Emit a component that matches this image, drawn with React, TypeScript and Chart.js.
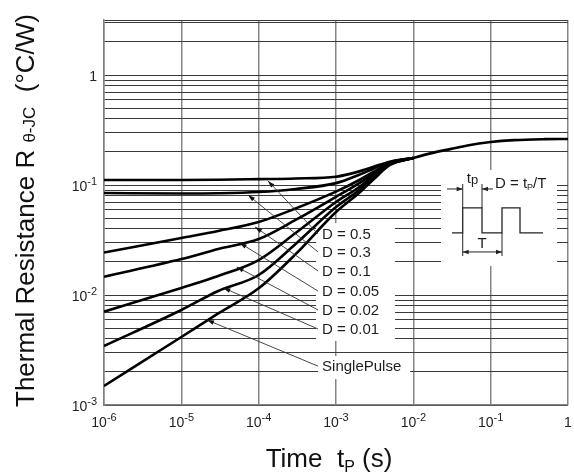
import { useEffect, useRef } from 'react';
import { Chart, registerables } from 'chart.js';

Chart.register(...registerables);

// ---------- data ----------
const T_DUTY = [1e-6, 1e-5, 3e-5, 1e-4, 3e-4, 1e-3, 2e-3, 3e-3, 5e-3, 1e-2];
const D_05 = [0.111, 0.111, 0.1115, 0.113, 0.1146, 0.119, 0.133, 0.146, 0.163, 0.176];
const D_03 = [0.0846, 0.0838, 0.0842, 0.0864, 0.092, 0.104, 0.124, 0.14, 0.162, 0.176];
const D_01 = [0.0243, 0.033, 0.0382, 0.0461, 0.0612, 0.087, 0.111, 0.131, 0.159, 0.176];
const D_005 = [0.01466, 0.0212, 0.0262, 0.0323, 0.0481, 0.078, 0.104, 0.126, 0.157, 0.176];
const D_002 = [0.00705, 0.0116, 0.0149, 0.0208, 0.0366, 0.07, 0.096, 0.121, 0.155, 0.176];
const D_001 = [0.00344, 0.00731, 0.01087, 0.0152, 0.0291, 0.063, 0.09, 0.116, 0.154, 0.176];

const T_SINGLE = [1e-6, 1e-5, 3e-5, 1e-4, 3e-4, 1e-3, 2e-3, 3e-3, 5e-3, 1e-2, 2e-2, 3e-2, 5e-2, 1e-1, 2e-1, 5e-1, 1];
const SINGLE = [0.00149, 0.00415, 0.0068, 0.0115, 0.0235, 0.0568, 0.085, 0.111, 0.152, 0.176, 0.2, 0.212, 0.229, 0.246, 0.256, 0.261, 0.262];

const X_TICKS = [1e-6, 1e-5, 1e-4, 1e-3, 1e-2, 1e-1, 1];
const Y_LABEL_TICKS = [1e-3, 1e-2, 1e-1, 1];
const Y_MIN = 1e-3;
const Y_MAX = Math.sqrt(10);
const Y_DECADES = [-3, -2, -1, 0];

// annotation labels (data coordinates)
const ANNOT_LABELS = ['D = 0.5', 'D = 0.3', 'D = 0.1', 'D = 0.05', 'D = 0.02', 'D = 0.01', 'SinglePulse'];
const ANNOT_LABEL_T = 6.6e-4;
const ANNOT_LABEL_V = [0.0351, 0.0241, 0.0162, 0.01064, 0.00716, 0.00481, 0.00221];
const ARROW_T = [1.32e-4, 7.3e-5, 9e-5, 5.7e-5, 5.2e-5, 3.5e-5, 2.15e-5];
const ARROW_V = [0.109, 0.081, 0.0415, 0.0297, 0.018, 0.0116, 0.00593];

// inset anchor (top-left of the pulse diagram, data coordinates)
const INSET_T = 0.0228;
const INSET_V = 0.137;

const FONT = '"Liberation Sans", Arial, Helvetica, sans-serif';

function isPow10(v: number) {
  const l = Math.log10(v);
  return Math.abs(l - Math.round(l)) < 1e-9;
}
function expOf(v: number) {
  return Math.round(Math.log10(v));
}

function buildYGrid() {
  const out: number[] = [];
  for (const e of Y_DECADES) {
    for (let m = 1; m <= 9; m++) {
      const v = m * Math.pow(10, e);
      if (v < Y_MAX) out.push(v);
    }
  }
  out.push(Y_MAX);
  return out;
}

type Piece = { t: string; size: number; dy: number };

function piecesWidth(ctx: CanvasRenderingContext2D, pieces: Piece[]) {
  let total = 0;
  for (const p of pieces) {
    ctx.font = `${p.size}px ${FONT}`;
    total += ctx.measureText(p.t).width;
  }
  return total;
}

function drawPieces(ctx: CanvasRenderingContext2D, pieces: Piece[], x: number, y: number, align: 'left' | 'center' | 'right') {
  const total = piecesWidth(ctx, pieces);
  let cx = align === 'center' ? x - total / 2 : align === 'right' ? x - total : x;
  ctx.textAlign = 'left';
  for (const p of pieces) {
    ctx.font = `${p.size}px ${FONT}`;
    ctx.fillText(p.t, cx, y + p.dy);
    cx += ctx.measureText(p.t).width;
  }
}

function powPieces(v: number): Piece[] {
  const e = expOf(v);
  if (e === 0) return [{ t: '1', size: 14, dy: 0 }];
  return [
    { t: '10', size: 14, dy: 0 },
    { t: String(e), size: 11, dy: -6 },
  ];
}

function arrowHead(ctx: CanvasRenderingContext2D, fx: number, fy: number, tx: number, ty: number, len: number, hw: number) {
  const a = Math.atan2(ty - fy, tx - fx);
  const bx = tx - len * Math.cos(a);
  const by = ty - len * Math.sin(a);
  ctx.beginPath();
  ctx.moveTo(tx, ty);
  ctx.lineTo(bx + hw * Math.sin(a), by - hw * Math.cos(a));
  ctx.lineTo(bx - hw * Math.sin(a), by + hw * Math.cos(a));
  ctx.closePath();
  ctx.fill();
}

const bgPlugin = {
  id: 'bg',
  beforeDraw(chart: any) {
    const { ctx, width, height } = chart;
    ctx.save();
    ctx.fillStyle = '#ffffff';
    ctx.fillRect(0, 0, width, height);
    ctx.restore();
  },
};

const annotPlugin = {
  id: 'annot',
  beforeDatasetsDraw(chart: any) {
    const { ctx } = chart;
    const x = chart.scales.x;
    const y = chart.scales.y;
    const lx = x.getPixelForValue(ANNOT_LABEL_T);
    const ly = ANNOT_LABEL_V.map((v) => y.getPixelForValue(v));
    ctx.save();
    ctx.fillStyle = '#ffffff';
    ctx.fillRect(lx - 6, ly[0] - 12, 79, ly[5] - ly[0] + 23);
    ctx.fillRect(lx - 4, ly[6] - 11, 92, 23);
    const ix = x.getPixelForValue(INSET_T);
    const iy = y.getPixelForValue(INSET_V);
    ctx.fillRect(ix, iy, 116, 96);
    ctx.restore();
  },
  afterDatasetsDraw(chart: any) {
    const { ctx, chartArea } = chart;
    const x = chart.scales.x;
    const y = chart.scales.y;
    const lx = x.getPixelForValue(ANNOT_LABEL_T);
    ctx.save();
    // leader lines with arrowheads
    ctx.strokeStyle = '#333';
    ctx.fillStyle = '#111';
    ctx.lineWidth = 0.9;
    ANNOT_LABEL_V.forEach((v, i) => {
      const sx = lx - 4;
      const sy = y.getPixelForValue(v) - 1;
      const tx = x.getPixelForValue(ARROW_T[i]);
      const ty = y.getPixelForValue(ARROW_V[i]);
      ctx.beginPath();
      ctx.moveTo(sx, sy);
      ctx.lineTo(tx, ty);
      ctx.stroke();
      arrowHead(ctx, sx, sy, tx, ty, 7, 2.3);
    });
    // labels
    ctx.fillStyle = '#1e1e1e';
    ctx.textBaseline = 'middle';
    ctx.textAlign = 'left';
    ctx.font = `15px ${FONT}`;
    ANNOT_LABELS.forEach((t, i) => {
      ctx.fillText(t, lx, y.getPixelForValue(ANNOT_LABEL_V[i]));
    });

    // inset pulse diagram
    const ix = x.getPixelForValue(INSET_T);
    const iy = y.getPixelForValue(INSET_V);
    const P = (dx: number, dy: number): [number, number] => [ix + dx, iy + dy];
    ctx.strokeStyle = '#222';
    ctx.fillStyle = '#222';
    ctx.lineWidth = 1.3;
    const wave: [number, number][] = [
      [11, 63], [21.7, 63], [21.7, 38], [41, 38], [41, 63], [61, 63], [61, 38], [79, 38], [79, 63], [102, 63],
    ];
    ctx.beginPath();
    wave.forEach(([dx, dy], i) => {
      const [px, py] = P(dx, dy);
      if (i === 0) ctx.moveTo(px, py); else ctx.lineTo(px, py);
    });
    ctx.stroke();
    ctx.lineWidth = 1;
    const seg = (a: [number, number], b: [number, number]) => {
      const [ax, ay] = P(a[0], a[1]);
      const [bx, by] = P(b[0], b[1]);
      ctx.beginPath();
      ctx.moveTo(ax, ay);
      ctx.lineTo(bx, by);
      ctx.stroke();
    };
    seg([21.7, 14], [21.7, 38]);
    seg([41, 14], [41, 38]);
    seg([6, 19], [21.7, 19]);
    seg([52, 19], [41, 19]);
    {
      const [a1, b1] = P(6, 19); const [a2, b2] = P(21.7, 19);
      arrowHead(ctx, a1, b1, a2, b2, 6, 2.2);
      const [c1, d1] = P(52, 19); const [c2, d2] = P(41, 19);
      arrowHead(ctx, c1, d1, c2, d2, 6, 2.2);
    }
    seg([21.7, 63], [21.7, 86]);
    seg([61, 63], [61, 86]);
    seg([21.7, 82], [61, 82]);
    {
      const [a1, b1] = P(40, 82); const [a2, b2] = P(21.7, 82);
      arrowHead(ctx, a1, b1, a2, b2, 6, 2.2);
      const [c2, d2] = P(61, 82);
      arrowHead(ctx, a1, b1, c2, d2, 6, 2.2);
    }
    ctx.textBaseline = 'alphabetic';
    ctx.fillStyle = '#1e1e1e';
    {
      const [tx, ty] = P(31.5, 13);
      drawPieces(ctx, [{ t: 't', size: 15, dy: 0 }, { t: 'p', size: 13, dy: 1 }], tx, ty, 'center');
      const [dx, dy] = P(54, 18);
      drawPieces(ctx, [{ t: 'D = t', size: 15, dy: 0 }, { t: 'P', size: 9, dy: 2 }, { t: '/T', size: 15, dy: 0 }], dx, dy, 'left');
      const [Tx, Ty] = P(41, 78);
      drawPieces(ctx, [{ t: 'T', size: 15, dy: 0 }], Tx, Ty, 'center');
    }

    // tick labels (10 with superscript exponent)
    ctx.fillStyle = '#222';
    X_TICKS.forEach((v) => {
      const px = x.getPixelForValue(v);
      drawPieces(ctx, powPieces(v), px, chartArea.bottom + 22, 'center');
    });
    Y_LABEL_TICKS.forEach((v) => {
      const py = y.getPixelForValue(v);
      drawPieces(ctx, powPieces(v), chartArea.left - 7, py + 6, 'right');
    });

    // axis titles
    ctx.fillStyle = '#111';
    const cx = (chartArea.left + chartArea.right) / 2 - 7;
    drawPieces(ctx, [
      { t: 'Time  t', size: 26, dy: 0 },
      { t: 'P', size: 16, dy: 5 },
      { t: ' (s)', size: 26, dy: 0 },
    ], cx, 467, 'center');

    ctx.save();
    ctx.translate(34, (chartArea.top + chartArea.bottom) / 2 - 2);
    ctx.rotate(-Math.PI / 2);
    drawPieces(ctx, [
      { t: 'Thermal Resistance R ', size: 26, dy: 0 },
      { t: '\u03B8-JC', size: 17, dy: 1 },
      { t: '  (\u00B0C/W)', size: 26, dy: 0 },
    ], 0, 0, 'center');
    ctx.restore();

    ctx.restore();
  },
};

export default function App() {
  const ref = useRef<HTMLCanvasElement | null>(null);

  useEffect(() => {
    document.body.style.margin = '0';
    const canvas = ref.current;
    if (!canvas) return;
    const mk = (label: string, ts: number[], vs: number[]) => ({
      label,
      data: ts.map((t, i) => ({ x: t, y: vs[i] })),
      borderColor: '#000000',
      backgroundColor: '#000000',
      borderWidth: 2.6,
      pointRadius: 0,
      fill: false,
      tension: 0.4,
      cubicInterpolationMode: 'monotone' as const,
    });
    const yGrid = buildYGrid();
    const chart = new Chart(canvas, {
      type: 'line',
      data: {
        datasets: [
          mk('D = 0.5', T_DUTY, D_05),
          mk('D = 0.3', T_DUTY, D_03),
          mk('D = 0.1', T_DUTY, D_01),
          mk('D = 0.05', T_DUTY, D_005),
          mk('D = 0.02', T_DUTY, D_002),
          mk('D = 0.01', T_DUTY, D_001),
          mk('SinglePulse', T_SINGLE, SINGLE),
        ],
      },
      options: {
        animation: false,
        responsive: false,
        devicePixelRatio: 1,
        layout: { padding: { top: 20, right: 6, left: 0, bottom: 0 } },
        plugins: { legend: { display: false }, tooltip: { enabled: false }, title: { display: false } },
        scales: {
          x: {
            type: 'logarithmic',
            min: 1e-6,
            max: 1,
            afterBuildTicks: (s: any) => { s.ticks = X_TICKS.map((v) => ({ value: v })); },
            afterFit: (s: any) => { s.height = 70; },
            grid: { color: '#858585', lineWidth: 1.5, drawTicks: false },
            border: { color: '#808080', width: 1.5 },
            ticks: { display: false, autoSkip: false },
          },
          y: {
            type: 'logarithmic',
            min: Y_MIN,
            max: Y_MAX,
            afterBuildTicks: (s: any) => { s.ticks = yGrid.map((v) => ({ value: v })); },
            afterFit: (s: any) => { s.width = 104; },
            grid: { color: '#3a3a3a', lineWidth: 1, drawTicks: false },
            border: { color: '#808080', width: 1.5 },
            ticks: { display: false, autoSkip: false },
          },
        },
      } as any,
      plugins: [bgPlugin, annotPlugin],
    });
    return () => chart.destroy();
  }, []);

  return <canvas ref={ref} width={574} height={475} style={{ display: 'block' }} />;
}
